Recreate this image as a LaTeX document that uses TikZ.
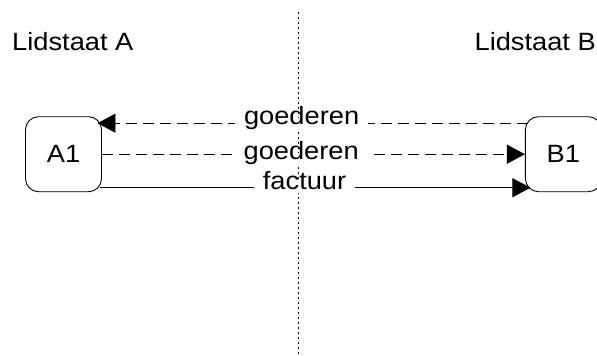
\documentclass[tikz,border=0pt]{standalone}
\usepackage{fontspec}
\setmainfont{Liberation Sans}[FakeStretch=1.09]
\usetikzlibrary{arrows.meta, positioning}
\tikzset{
    %Define standard arrow tip
    >={Triangle[length=18pt,width=19pt]},
    %Define style for the boxes
    staat/.style={
           rectangle,
           rounded corners=13pt,
           draw=black, line width=0.9pt,
           minimum width=76pt,
           minimum height=75pt,
           text centered},
    % Define line styles
    stroom/.style={
           ->,
           line width=0.9pt},
    streep/.style={
           stroom,
           dash pattern=on 11pt off 6pt},
    % labels on the lines
    opschrift/.style={
           fill=white,
           inner xsep=9pt, inner ysep=0pt,
           text height=0.73em, text depth=0.41em},
    kop/.style={anchor=base west, inner sep=0pt}
}

\begin{document}
\begin{tikzpicture}[x=1pt, y=-1pt, font=\fontsize{25}{30}\selectfont]
\useasboundingbox (0,0) rectangle (597,356);

% border between the states
\coordinate (gtop) at (298,12);
\coordinate (gbot) at (298,356);
\draw[line width=0.8pt, dash pattern=on 2pt off 3pt] (gtop) -- (gbot);

% headings
\node[kop] (lidA) at (12,50.5) {Lidstaat A};
\node[kop, anchor=base east] (lidB) at (596,50.5) {Lidstaat B};

% the two parties
\node[staat] (A1) at (63.5,154.2) {A1};
\node[staat] (B1) [right = 423pt of A1] {B1};

\path
% goods back and forth
([yshift=31pt]B1.west) edge[streep, shorten <=-3pt, shorten >=-4.5pt] node[opschrift, pos=0.528] {goederen} ([yshift=31pt]A1.east)
(A1.east) edge[streep] node[opschrift, pos=0.471, yshift=-4pt] {goederen} (B1.west)
% invoice
([yshift=-33.5pt]A1.east) edge[stroom, shorten <=-1.5pt, shorten >=-5.5pt] node[opschrift, pos=0.479] {factuur} ([yshift=-33.5pt]B1.west);

\end{tikzpicture}
\end{document}
